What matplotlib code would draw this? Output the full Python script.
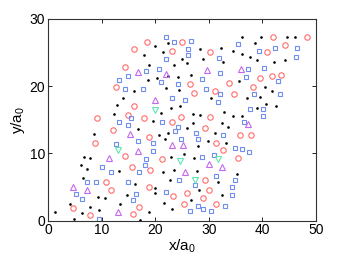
import numpy as np
from matplotlib import pyplot as plt

# black dots
dot_x = [22.4, 20.0, 21.4, 17.85, 25.0, 18.8, 23.5, 25.9, 20.3, 22.4, 18.6, 16.0, 22.0, 24.4,
         14.0, 12.9, 24.6, 22.9, 21.1, 12.3, 19.5, 16.75, 26.0, 24.25,
         28.4, 32.2, 29.0, 32.7, 26.6, 30.35, 27.1, 28.4, 32.9,
         36.25, 39.8, 44.6, 46.1, 38.6, 34.5, 36.1, 37.7, 38.9, 42.1, 44.3, 35.6, 40.5, 41.85,
         39.5, 37.1, 40.7, 42.5, 39.05, 34.6, 36.2,
         32.55, 27.1, 33.6, 20.65, 22.3, 31.2, 21.9, 33.3, 29.85, 28.0, 25.3, 22.9, 27.2,
         21.5, 23.5, 27.85, 35.2, 22.7, 31.7, 20.0, 20.0, 28.2, 26.7, 32.5, 21.6, 23.1, 18.9, 17.1,
         8.6, 6.7, 7.8, 6.2, 7.3, 13.3, 6.6, 16.3, 9.3, 10.7, 14.8, 4.1, 13.4, 7.9, 9.5,
         1.25, 6.4, 4.85]
dot_y = [26.4, 26.0, 25.1, 24.7, 24.1, 23.1, 23.1, 23.4, 21.2, 21.5, 20.9, 19.2, 19.7, 19.4,
         18.3, 17.2, 17.0, 16.7, 15.95, 15.8, 14.85, 13.6, 13.8, 21.4,
         25.5, 25.6, 24.1, 23.6, 21.65, 18.2, 15.8, 15.65, 16.1,
         27.3, 27.3, 27.3, 27.3, 26.4, 25.2, 24.8, 24.4, 23.9, 23.6, 23.9, 20.8, 19.8, 19.2,
         18.4, 18.2, 17.4, 17.1, 16.7, 15.6, 15.6,
         14.45, 14.5, 13.9, 12.8, 13.1, 13.1, 12.1, 11.6, 11.9, 11.1, 9.9, 9.5, 9.3,
         7.3, 7.5, 7.4, 7.0, 6.1, 5.7, 4.9, 4.05, 4.5, 3.0, 3.85, 2.65, 1.7, 1.3, 0.05,
         12.9, 9.5, 9.35, 8.2, 7.65, 7.4, 6.3, 5.5, 3.45, 3.35, 3.75, 2.5, 2.5, 1.95, 1.55,
         1.3, 1.2, 0.2]

# red circles
circ_x = [18.5, 25.05, 16.05, 23.1, 14.3, 12.6, 26.4, 16.0, 14.9, 9.2, 24.75, 17.85, 23.1, 12.1,
          30.3, 33.8, 27.2, 31.1, 30.2,
          42.0, 48.3, 44.3, 40.8, 39.5, 41.7, 43.5, 38.2, 34.7,
          29.2, 18.8, 31.4, 32.6, 35.9, 37.8, 35.5, 21.2, 19.0, 29.2, 18.8, 25.9, 30.0, 23.3,
          29.0, 31.3, 25.3,
          8.8, 14.4, 15.7, 10.8, 11.7, 4.7, 17.0, 7.8, 15.8]
circ_y = [26.5, 26.6, 25.5, 25.2, 22.9, 19.8, 20.3, 17.1, 15.7, 15.3, 15.4, 15.2, 14.65, 13.5,
          25.1, 20.5, 19.0, 19.3, 15.45,
          27.3, 27.3, 26.1, 25.1, 21.2, 21.5, 21.7, 19.9, 18.8,
          13.8, 12.5, 11.5, 10.5, 12.7, 12.7, 9.3, 9.15, 7.5, 6.1, 5.0, 4.1, 4.6, 3.65,
          3.3, 2.5, 2.5,
          11.6, 9.6, 7.9, 5.8, 4.6, 1.8, 1.95, 0.85, 1.0]

# blue squares
sq_x = [22.1, 23.6, 26.7, 26.1, 26.1, 22.1, 20.8, 18.2, 15.0, 13.2, 21.1, 24.25, 14.4, 17.7,
        23.1, 25.6, 15.55, 21.3, 24.25, 13.2, 14.9,
        31.9, 28.8, 29.5, 31.8, 32.15, 32.15,
        35.5, 42.3, 46.5, 39.3, 46.3, 37.4, 40.3, 36.9, 42.9, 38.4, 43.3, 37.6, 40.05, 40.2,
        36.6, 23.75, 27.7, 32.6, 19.5, 24.9, 28.0, 34.8, 36.1, 37.5, 19.6, 30.9, 28.7, 18.3,
        18.15, 31.4, 34.9, 24.4, 27.5, 34.4, 22.0, 34.4, 28.0, 28.9, 33.1, 26.4, 30.35,
        12.7, 16.7, 10.0, 11.75, 16.9, 7.3, 9.0, 14.9, 5.2, 6.4, 16.5, 15.9, 9.6]
sq_y = [27.35, 26.5, 26.7, 25.5, 24.7, 24.0, 22.6, 22.2, 21.5, 20.9, 20.6, 20.3, 19.6, 19.5,
        18.2, 18.0, 15.2, 14.65, 13.95, 14.6, 14.2,
        24.2, 21.0, 19.6, 17.7, 21.9, 18.8,
        26.3, 25.6, 25.6, 25.2, 24.4, 22.5, 22.65, 21.3, 20.8, 18.8, 18.8, 16.6, 16.6, 15.5,
        14.6, 13.3, 13.0, 12.8, 11.6, 12.2, 12.2, 10.8, 10.6, 10.15, 10.3, 9.7, 9.5, 9.1,
        8.2, 6.6, 6.0, 6.0, 5.3, 4.95, 4.2, 3.8, 2.2, 1.7, 2.2, 1.4, 1.5,
        11.4, 11.9, 7.9, 7.3, 7.2, 5.8, 5.7, 5.8, 4.0, 3.15, 3.9, 3.0, 0.27]

# magenta triangles (up)
tri_x = [16.85, 22.1, 20.0, 29.7, 36.0, 37.4, 15.3, 16.7, 11.3, 23.1, 25.2, 30.1, 32.5, 25.6,
         4.7, 7.3, 13.0]
tri_y = [22.05, 21.8, 17.9, 22.4, 22.5, 14.4, 12.9, 10.3, 9.35, 11.3, 11.3, 8.4, 8.0, 7.3,
         5.0, 4.5, 1.35]

# green triangles (down)
tdn_x = [20.0, 13.1, 24.6, 31.8, 27.5]
tdn_y = [16.5, 10.5, 8.8, 9.1, 6.1]

plt.rcParams['font.family'] = ['Liberation Sans', 'DejaVu Sans']

fig = plt.figure(figsize=(3.49, 2.62), dpi=100)
ax = fig.add_axes([0.1375, 0.158, 0.768, 0.77])

ax.plot(dot_x, dot_y, 'o', color='k', ms=1.9, mew=0)
ax.plot(circ_x, circ_y, 'o', mfc='none', mec='#ff6b6b', ms=3.9, mew=0.8)
ax.plot(sq_x, sq_y, 's', mfc='none', mec='#6e8ef0', ms=3.4, mew=0.8)
ax.plot(tri_x, tri_y, '^', mfc='none', mec='#c468f0', ms=4.0, mew=0.8)
ax.plot(tdn_x, tdn_y, 'v', mfc='none', mec='#5ee8b0', ms=4.0, mew=0.8)

ax.set_xlim(0, 50)
ax.set_ylim(0, 30)
ax.set_xticks([0, 10, 20, 30, 40, 50])
ax.set_yticks([0, 10, 20, 30])
ax.tick_params(direction='in', top=True, right=True, length=3, width=0.6,
               labelsize=10, pad=2)
for s in ax.spines.values():
    s.set_linewidth(0.8)
    s.set_color('#333333')

ax.set_xlabel('x/a$_\\mathregular{0}$', fontsize=11, labelpad=0)
ax.set_ylabel('y/a$_\\mathregular{0}$', fontsize=11, labelpad=2)

fig.savefig('out.png', dpi=100)
